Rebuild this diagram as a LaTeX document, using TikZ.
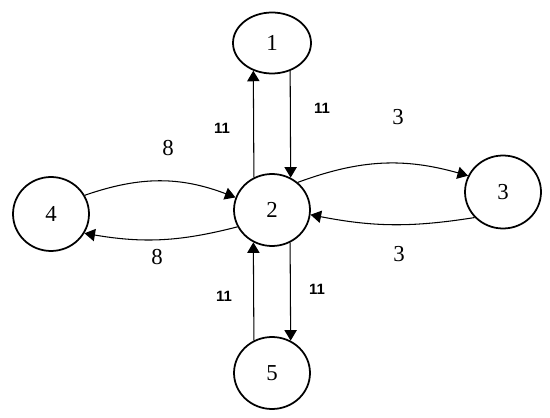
\documentclass[tikz,border=0pt]{standalone}
\usepackage{fontspec}
\setmainfont{Liberation Serif}
\setsansfont{Liberation Sans}
\usetikzlibrary{arrows.meta,shapes.geometric}

\begin{document}
\begin{tikzpicture}[
  x=0.02cm, y=-0.02cm,
  font=\fontsize{13}{15}\selectfont,
  vtx/.style={draw, ellipse, line width=1pt, inner sep=0pt, minimum width=1.52cm, minimum height=1.44cm},
  arc/.style={line width=0.6pt, -{Triangle[length=6pt,width=7pt]}},
  wt/.style={inner sep=0pt},
  wts/.style={inner sep=0pt, font=\fontsize{8.5}{10}\selectfont\sffamily\bfseries}
]
\useasboundingbox (0,0) rectangle (550,418);
\node[vtx, minimum width=1.56cm, minimum height=1.22cm] (n1) at (272,43) {1};
\node[vtx] (n2) at (272,210) {2};
\node[vtx, minimum height=1.46cm] (n3) at (503,192) {3};
\node[vtx, minimum height=1.48cm] (n4) at (51,214) {4};
\node[vtx] (n5) at (272,373) {5};
\draw[arc] (n2.119.6) -- (n1.236.4);
\draw[arc] (n1.303.6) -- (n2.60.4);
\draw[arc] (n2.299.6) -- (n5.60.4);
\draw[arc] (n5.119.6) -- (n2.240.4);
\draw[arc] (n4.29) to[bend left=20] (n2.161);
\draw[arc] (n2.206) to[bend left=12] (n4.330);
\draw[arc] (n2.47) to[bend left=18] (n3.155);
\draw[arc] (n3.222) to[bend left=10] (n2.353);
\node[wt] (w42) at (168,148) {8};
\node[wt] (w24) at (157,257) {8};
\node[wt] (w23) at (398,117) {3};
\node[wt] (w32) at (399,254) {3};
\node[wts] (w21) at (222,128) {11};
\node[wts] (w12) at (322,108) {11};
\node[wts] (w52) at (224,296) {11};
\node[wts] (w25) at (317,289) {11};
\end{tikzpicture}
\end{document}
